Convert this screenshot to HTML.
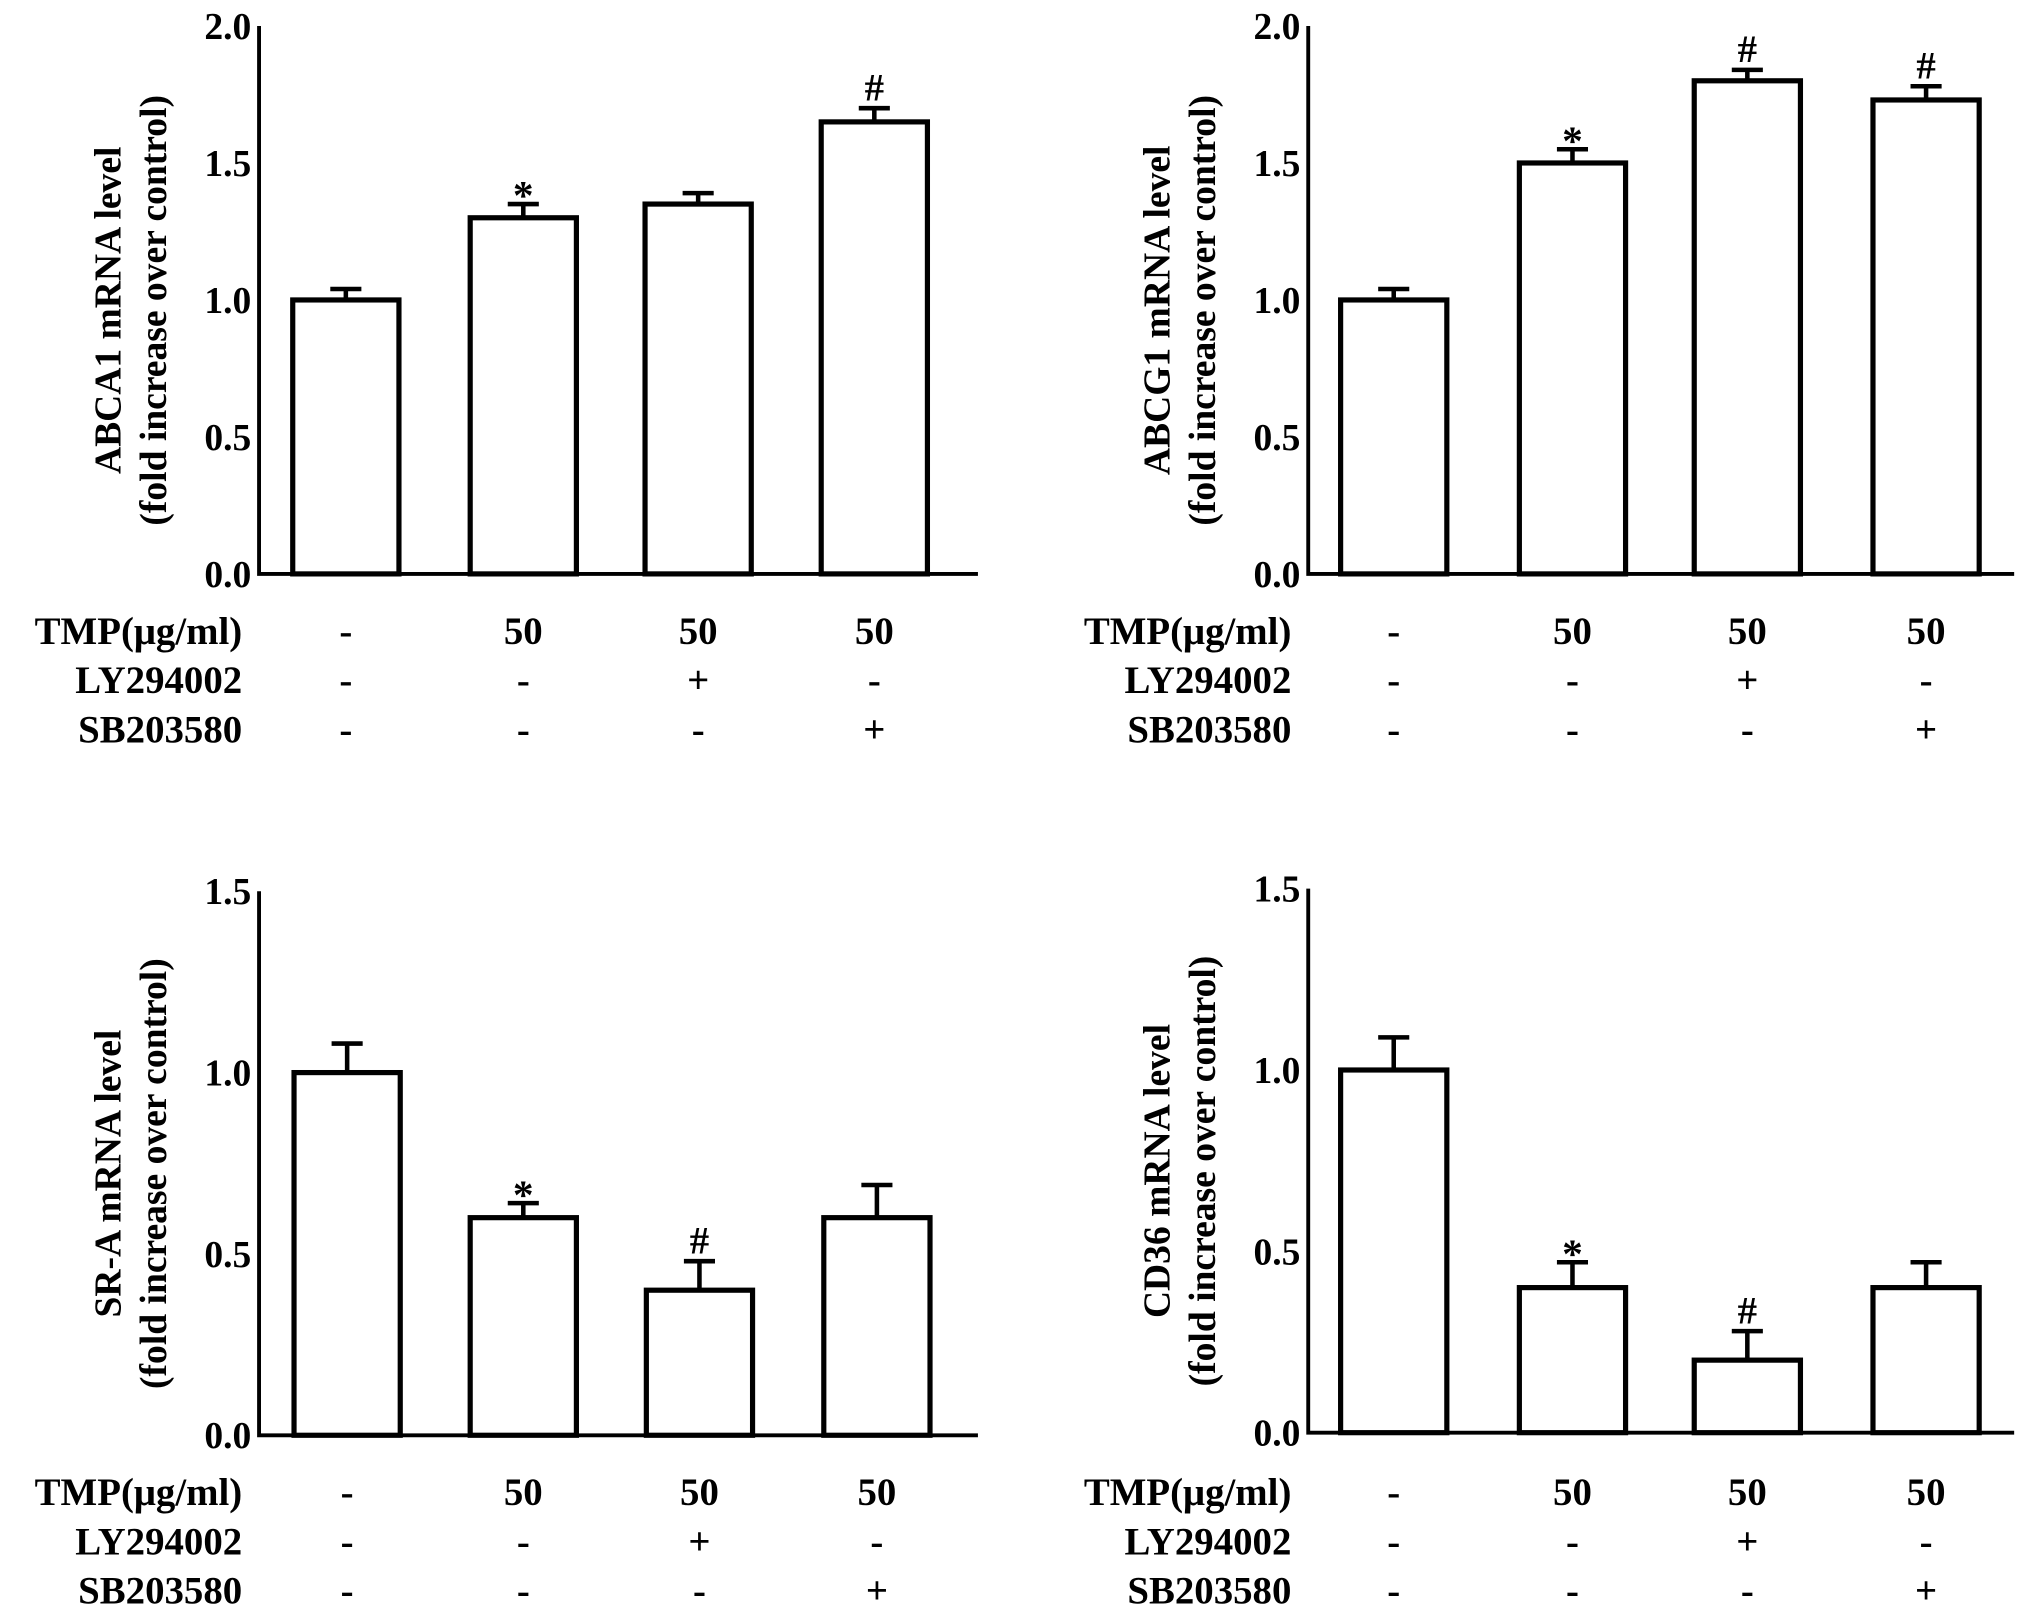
<!DOCTYPE html>
<html><head><meta charset="utf-8"><style>
html,body{margin:0;padding:0;background:#fff;}
svg{display:block}
text{font-family:"Liberation Serif",serif;font-weight:bold;fill:#000}
</style></head><body>
<svg id="fig" width="2031" height="1618" viewBox="0 0 1568 1249" xmlns="http://www.w3.org/2000/svg"></svg>
<script>
const abca1Values=[1.0,1.3,1.35,1.65];
const abca1Errors=[0.04,0.05,0.04,0.05];
const abca1Marks=["","*","","#"];
const abcg1Values=[1.0,1.5,1.8,1.73];
const abcg1Errors=[0.04,0.05,0.04,0.05];
const abcg1Marks=["","*","#","#"];
const sraValues=[1.0,0.6,0.4,0.6];
const sraErrors=[0.08,0.04,0.08,0.09];
const sraMarks=["","*","#",""];
const cd36Values=[1.0,0.4,0.2,0.4];
const cd36Errors=[0.09,0.07,0.08,0.07];
const cd36Marks=["","*","#",""];
const ticksTop=["0.0","0.5","1.0","1.5","2.0"];
const ticksBottom=["0.0","0.5","1.0","1.5"];
const tmpRow=["-","50","50","50"];
const lyRow=["-","-","+","-"];
const sbRow=["-","-","-","+"];

const NS="http://www.w3.org/2000/svg";
const svg=document.getElementById('fig');
function el(tag,attrs,parent){const e=document.createElementNS(NS,tag);for(const k in attrs)e.setAttribute(k,attrs[k]);(parent||svg).appendChild(e);return e;}

const panels=[
 {name:'abca1',label:'ABCA1 mRNA level',vals:abca1Values,errs:abca1Errors,marks:abca1Marks,ticks:ticksTop,ax:200,top:20,bot:443,right:755,centers:[267,404,539,675],rowY:[487,525,563]},
 {name:'abcg1',label:'ABCG1 mRNA level',vals:abcg1Values,errs:abcg1Errors,marks:abcg1Marks,ticks:ticksTop,ax:1010,top:20,bot:443,right:1555,centers:[1076,1214,1349,1487],rowY:[487,525,563]},
 {name:'sra',label:'SR-A mRNA level',vals:sraValues,errs:sraErrors,marks:sraMarks,ticks:ticksBottom,ax:200,top:688,bot:1108,right:755,centers:[268,404,540,677],rowY:[1152,1190,1228]},
 {name:'cd36',label:'CD36 mRNA level',vals:cd36Values,errs:cd36Errors,marks:cd36Marks,ticks:ticksBottom,ax:1010,top:686,bot:1106,right:1555,centers:[1076,1214,1349,1487],rowY:[1152,1190,1228]}
];
const rows=[["TMP(μg/ml)",tmpRow],["LY294002",lyRow],["SB203580",sbRow]];

panels.forEach(p=>{
 const g=el('g',{});
 
 
 const maxV=parseFloat(p.ticks[p.ticks.length-1]);
 const y=v=>p.bot-(v/maxV)*(p.bot-p.top);
 p.vals.forEach((v,i)=>{
  const cx=p.centers[i],w=82;
  const eb=el('path',{d:`M${cx} ${y(v)} V${y(v+p.errs[i])} M${cx-12} ${y(v+p.errs[i])} H${cx+12}`,stroke:'#000','stroke-width':3.5,fill:'none'},g);
  
  
  const r=el('rect',{x:cx-w/2,y:y(v),width:w,height:p.bot-y(v),fill:'#fff',stroke:'#000','stroke-width':4},g);
  
  
  if(p.marks[i]){
   const t=el('text',{x:cx,y:y(v+p.errs[i])-(p.marks[i]=='*'?-4:6),'text-anchor':'middle','font-size':p.marks[i]=='*'?32:30,'font-weight':'normal'},g);
   t.textContent=p.marks[i];
   
   
  }
 });
 const ax=el('path',{d:`M${p.ax} ${p.top} V${p.bot} H${p.right}`,stroke:'#000','stroke-width':3,fill:'none'},g);
 
 
 p.ticks.forEach(tk=>{
  const t=el('text',{x:p.ax-6,y:y(parseFloat(tk))+10,'text-anchor':'end','font-size':29},g);
  t.textContent=tk;
  
  
 });
 const cy=(p.top+p.bot)/2+8;
 const yl=el('text',{transform:`translate(${p.ax-107},${cy}) rotate(-90)`,'text-anchor':'middle','font-size':29},g);
 yl.textContent=p.label;
 
 
 const yl2=el('text',{transform:`translate(${p.ax-72},${cy}) rotate(-90)`,'text-anchor':'middle','font-size':29},g);
 yl2.textContent='(fold increase over control)';
 
 
 rows.forEach((r,ri)=>{
  const lt=el('text',{x:p.ax-13,y:p.rowY[ri]+10,'text-anchor':'end','font-size':30},g);
  lt.textContent=r[0];
  
  
  r[1].forEach((s,i)=>{
   const t=el('text',{x:p.centers[i],y:p.rowY[ri]+10,'text-anchor':'middle','font-size':30},g);
   t.textContent=s;
   
   
  });
 });
});
</script>
</body></html>
